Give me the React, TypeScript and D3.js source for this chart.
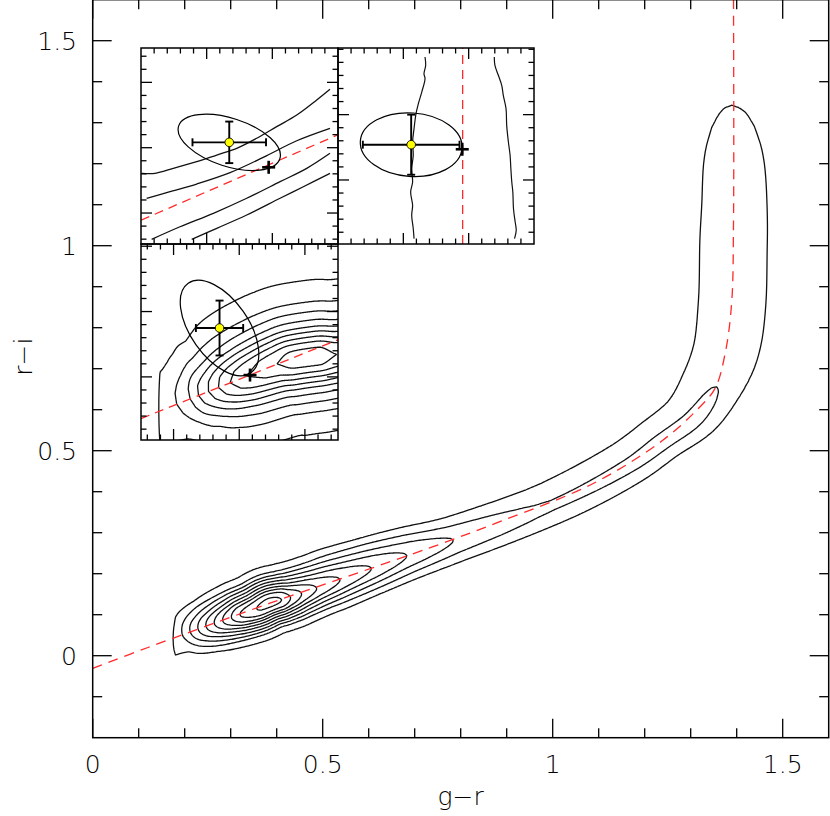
import React from 'react';
import * as d3 from 'd3';

// ---------------- main axes ----------------
const xTickValues = [0, 0.5, 1, 1.5];
const xTickLabels = ['0', '0.5', '1', '1.5'];
const yTickValues = [0, 0.5, 1, 1.5];
const yTickLabels = ['0', '0.5', '1', '1.5'];
const xLabel = 'g\u2212r';
const yLabel = 'r\u2212i';

// ---------------- stellar locus (red dashed) ----------------
const locusGR = [0, 0.12, 0.385, 0.73, 0.885, 1.088, 1.24, 1.313, 1.353, 1.375, 1.389, 1.393, 1.393];
const locusRI = [-0.031, 0.02, 0.128, 0.262, 0.327, 0.42, 0.526, 0.599, 0.652, 0.738, 0.86, 1.05, 1.62];

// ---------------- density ridge of main plot ----------------
const ridgeGR = [0.10, 0.179, 0.196, 0.213, 0.230, 0.247, 0.265, 0.283, 0.302, 0.320, 0.356, 0.385, 0.411, 0.430, 0.454, 0.487, 0.538, 0.606, 0.683, 0.784, 1.001, 1.168, 1.240, 1.313, 1.357, 1.378, 1.390, 1.393, 1.395, 1.394, 1.392, 1.391, 1.390, 1.390, 1.390, 1.390];
const ridgeRI = [0.0094, 0.0413, 0.0482, 0.0551, 0.0619, 0.0688, 0.0761, 0.0833, 0.091, 0.0983, 0.1128, 0.129, 0.137, 0.1427, 0.1524, 0.1657, 0.1864, 0.2138, 0.245, 0.282, 0.366, 0.461, 0.518, 0.579, 0.656, 0.75, 0.86, 1.0, 1.1, 1.2, 1.29, 1.314, 1.331, 1.343, 1.36, 1.40];
const ridgeAmp = [1.6, 1.75, 2, 3, 4, 5, 6, 7, 8, 9, 10, 10.4, 10, 9, 8, 7, 6, 5, 4, 3, 2.08, 2.15, 2.2, 2.18, 2.0, 1.6, 1.37, 1.37, 1.34, 1.284, 1.127, 1.07, 1.029, 1.0, 0.95, 0];
const ridgeWUp = [0.04, 0.04, 0.04, 0.04, 0.04, 0.04, 0.04, 0.04, 0.04, 0.04, 0.04, 0.04, 0.04, 0.041, 0.041, 0.042, 0.044, 0.044, 0.042, 0.039, 0.05, 0.053, 0.054, 0.06, 0.068, 0.075, 0.095, 0.095, 0.095, 0.095, 0.095, 0.095, 0.095, 0.095, 0.095, 0.095];
const ridgeWDn = [0.036, 0.036, 0.036, 0.036, 0.036, 0.036, 0.036, 0.036, 0.036, 0.036, 0.036, 0.036, 0.036, 0.036, 0.036, 0.036, 0.037, 0.037, 0.037, 0.037, 0.037, 0.035, 0.034, 0.038, 0.047, 0.075, 0.095, 0.095, 0.095, 0.095, 0.095, 0.095, 0.095, 0.095, 0.095, 0.095];
const mainProfileR = [0, 0.15, 0.3, 0.45, 0.63, 0.82, 1.0, 1.19, 1.38, 1.56, 1.75, 2.2, 3.2];
const mainProfileF = [1, 0.989, 0.956, 0.905, 0.82, 0.70, 0.6, 0.49, 0.39, 0.29, 0.2, 0.096, 0];
const mainCut = [0.168, 0.18];
const mainLevels = [1, 2, 3, 4, 5, 6, 7, 8, 9, 10];

// ---------------- inset 1 (top-left) ----------------
const in1LineAU = [0.05, 1.07, 2.46, 4.24, 5.77, 7.29, 8.81, 10.33, 11.86, 13.38, 14.39];
const in1LineAV = [5.41, 5.41, 5.79, 6.3, 6.81, 7.32, 8.09, 8.98, 9.87, 11.02, 11.84];
const in1LineBU = [0.43, 2.21, 4.24, 6.78, 9.31, 11.86, 14.39];
const in1LineBV = [3.5, 4.0, 4.59, 5.46, 6.63, 7.9, 8.85];
const in1LineCU = [0.81, 2.97, 5.51, 8.05, 10.59, 12.62, 14.39];
const in1LineCV = [0.36, 1.32, 2.35, 3.5, 4.77, 5.79, 6.94];
const in1LineDU = [3.86, 5.77, 8.05, 10.59, 12.36, 14.39];
const in1LineDV = [0.36, 1.2, 2.22, 3.5, 4.38, 5.41];
const in1DashU = [0, 15];
const in1DashV = [1.82, 8.36];
const in1Point = { u: 6.72, v: 7.78, eu: 2.8, ev: 1.59, a: 4.05, b: 1.83, angle: 18 };
const in1Plus = { u: 9.72, v: 5.87 };

// ---------------- inset 2 (top-right) ----------------
const in2LeftU = [6.66, 6.71, 6.58, 6.66, 6.41, 6.15, 5.97, 5.82, 5.71, 5.76, 5.64, 5.71, 5.56, 5.71, 5.64, 5.76, 5.82];
const in2LeftV = [14.31, 13.67, 13.03, 12.65, 11.63, 10.74, 9.97, 8.83, 7.81, 6.79, 5.76, 4.74, 3.98, 2.96, 2.19, 1.17, 0.41];
const in2RightU = [11.96, 12.01, 12.27, 12.53, 12.65, 12.86, 12.91, 13.04, 13.17, 13.23, 13.3, 13.38, 13.43, 13.56, 13.64, 13.51];
const in2RightV = [14.31, 13.67, 12.91, 12.14, 11.38, 10.36, 9.08, 7.81, 6.79, 5.76, 4.74, 3.98, 2.7, 1.68, 1.05, 0.41];
const in2DashU = [9.54, 9.54];
const in2DashV = [0, 15];
const in2Point = { u: 5.6, v: 7.6, eu: 3.7, ev: 2.3, a: 3.9, b: 2.43, angle: 4 };
const in2Plus = { u: 9.51, v: 7.25 };

// ---------------- inset 3 (bottom-left) ----------------
const in3RidgeU = [0.0, 1.32, 2.72, 3.74, 4.38, 5.14, 5.9, 6.79, 8.07, 10.36, 11.5, 13.5, 14.9, 16.5];
const in3RidgeV = [1.62, 2.17, 2.74, 3.15, 3.41, 3.72, 4.02, 4.38, 4.9, 5.82, 6.12, 6.42, 6.55, 6.8];
const in3RidgeAmp = [1.5, 1.6, 2, 3, 4, 5, 6, 7, 8, 9, 9.55, 9.6, 9.0, 8.6];
const in3RidgeWUp = [1.3, 1.3, 1.2, 1.1, 1.05, 1.0, 1.0, 1.0, 1.0, 1.0, 1.0, 1.0, 1.0, 1.0];
const in3RidgeWDn = [1.3, 1.3, 1.2, 1.1, 1.05, 1.0, 1.0, 1.0, 1.0, 1.0, 1.0, 1.0, 1.0, 1.0];
const in3ProfileR = [0, 0.69, 1.15, 1.53, 1.92, 2.3, 2.81, 3.45, 4.21, 5.87, 9];
const in3ProfileF = [1, 0.9375, 0.833, 0.729, 0.625, 0.521, 0.417, 0.3125, 0.208, 0.104, 0];
const in3Cut = [1.2, 1.45];
const in3Levels = [1, 2, 3, 4, 5, 6, 7, 8, 9];
const in3DashU = [0, 15];
const in3DashV = [1.64, 7.67];
const in3Point = { u: 5.98, v: 8.57, eu: 1.8, ev: 2.1, a: 4.16, b: 2.2, angle: 55 };
const in3Plus = { u: 8.3, v: 4.97 };

// inset tick positions (local units)
const in1XTicks = d3.range(1, 15, 1);
const in1XMajor = [5, 10];
const in1YTicks = d3.range(0.37, 15, 1);
const in1YMajor = [2.37, 7.37, 12.37];
const in2XTicks = d3.range(1, 15, 1);
const in2XMajor = [5, 10];
const in2YTicks = d3.range(0.9, 15, 1);
const in2YMajor = [4.9, 9.9];
const in3XTicks = d3.range(0.48, 15, 1);
const in3XMajor = [2.48, 7.48, 12.48];
const in3YTicks = d3.range(0.83, 15, 1);
const in3YMajor = [4.83, 9.83, 14.83];

// ---------------- layout ----------------
const W = 830;
const H = 816;
const PL = 92.7, PR = 828.7, PT = -0.3, PB = 737.7;
const box1 = { x0: 141, x1: 338, y0: 48, y1: 244 };
const box2 = { x0: 338, x1: 534, y0: 48, y1: 244 };
const box3 = { x0: 141, x1: 338, y0: 244, y1: 440 };
const FONT = '"DejaVu Sans", "Liberation Sans", sans-serif';
const RED = '#ff2a2a';

function interp(xs: number[], ys: number[], x: number) {
  const n = xs.length;
  if (x <= xs[0]) return ys[0];
  if (x >= xs[n - 1]) return ys[n - 1];
  let i = 1;
  while (xs[i] < x) i++;
  const t = (x - xs[i - 1]) / (xs[i] - xs[i - 1]);
  return ys[i - 1] + t * (ys[i] - ys[i - 1]);
}

// monotone cubic tangents (Fritsch-Carlson) over node index
function monoTangents(p: number[]) {
  const n = p.length;
  const d: number[] = [];
  for (let k = 0; k < n - 1; k++) d.push(p[k + 1] - p[k]);
  const m = new Array(n).fill(0);
  m[0] = d[0];
  m[n - 1] = d[n - 2];
  for (let k = 1; k < n - 1; k++) m[k] = d[k - 1] * d[k] <= 0 ? 0 : (d[k - 1] + d[k]) / 2;
  for (let k = 0; k < n - 1; k++) {
    if (d[k] === 0) { m[k] = 0; m[k + 1] = 0; continue; }
    const a = m[k] / d[k], b = m[k + 1] / d[k];
    const s = a * a + b * b;
    if (s > 9) { const tau = 3 / Math.sqrt(s); m[k] = tau * a * d[k]; m[k + 1] = tau * b * d[k]; }
  }
  return m;
}

function hermite(p0: number, p1: number, m0: number, m1: number, t: number) {
  const t2 = t * t, t3 = t2 * t;
  return (2 * t3 - 3 * t2 + 1) * p0 + (t3 - 2 * t2 + t) * m0 + (-2 * t3 + 3 * t2) * p1 + (t3 - t2) * m1;
}

// centripetal Catmull-Rom densification of the ridge, monotone cubic for its parameters
function smoothRidge(xs: number[], ys: number[], params: number[][], sub: number) {
  const n = xs.length;
  const P = xs.map((x, i) => [x, ys[i]]);
  const ext0 = [2 * P[0][0] - P[1][0], 2 * P[0][1] - P[1][1]];
  const extN = [2 * P[n - 1][0] - P[n - 2][0], 2 * P[n - 1][1] - P[n - 2][1]];
  const pts = [ext0, ...P, extN];
  const tangents = params.map(monoTangents);
  const ox: number[] = [], oy: number[] = [];
  const op: number[][] = params.map(() => []);
  const dist = (a: number[], b: number[]) => Math.max(1e-9, Math.sqrt(Math.hypot(b[0] - a[0], b[1] - a[1])));
  for (let k = 0; k < n - 1; k++) {
    const p0 = pts[k], p1 = pts[k + 1], p2 = pts[k + 2], p3 = pts[k + 3];
    const t0 = 0, t1 = t0 + dist(p0, p1), t2 = t1 + dist(p1, p2), t3 = t2 + dist(p2, p3);
    const last = k === n - 2 ? sub : sub - 1;
    for (let s = 0; s <= last; s++) {
      const f = s / sub;
      const t = t1 + f * (t2 - t1);
      const out: number[] = [];
      for (let c = 0; c < 2; c++) {
        const A1 = ((t1 - t) / (t1 - t0)) * p0[c] + ((t - t0) / (t1 - t0)) * p1[c];
        const A2 = ((t2 - t) / (t2 - t1)) * p1[c] + ((t - t1) / (t2 - t1)) * p2[c];
        const A3 = ((t3 - t) / (t3 - t2)) * p2[c] + ((t - t2) / (t3 - t2)) * p3[c];
        const B1 = ((t2 - t) / (t2 - t0)) * A1 + ((t - t0) / (t2 - t0)) * A2;
        const B2 = ((t3 - t) / (t3 - t1)) * A2 + ((t - t1) / (t3 - t1)) * A3;
        out.push(((t2 - t) / (t2 - t1)) * B1 + ((t - t1) / (t2 - t1)) * B2);
      }
      ox.push(out[0]);
      oy.push(out[1]);
      params.forEach((p, pi) => op[pi].push(hermite(p[k], p[k + 1], tangents[pi][k], tangents[pi][k + 1], f)));
    }
  }
  return { x: ox, y: oy, p: op };
}

function densityGrid(rx: number[], ry: number[], ra: number[], wu: number[], wd: number[], pr: number[], pf: number[], cut: number[], x0: number, x1: number, y0: number, y1: number, step: number) {
  const nx = Math.round((x1 - x0) / step) + 1;
  const ny = Math.round((y1 - y0) / step) + 1;
  const values = new Float64Array(nx * ny);
  const nseg = rx.length - 1;
  const maxW = Math.max(...wu, ...wd) * pr[pr.length - 1];
  const minX = Math.min(...rx) - maxW, maxX = Math.max(...rx) + maxW;
  const minY = Math.min(...ry) - maxW, maxY = Math.max(...ry) + maxW;
  for (let j = 0; j < ny; j++) {
    const py = y0 + j * step;
    if (py < minY || py > maxY) continue;
    for (let i = 0; i < nx; i++) {
      const px = x0 + i * step;
      if (px < minX || px > maxX) continue;
      const c = px <= cut[0] ? 0 : px >= cut[1] ? 1 : (px - cut[0]) / (cut[1] - cut[0]);
      if (c === 0) continue;
      let best = Infinity, bi = 0, bt = 0, bside = 1;
      for (let s = 0; s < nseg; s++) {
        const ax = rx[s], ay = ry[s];
        const dx = rx[s + 1] - ax, dy = ry[s + 1] - ay;
        const L2 = dx * dx + dy * dy;
        let t = L2 > 0 ? ((px - ax) * dx + (py - ay) * dy) / L2 : 0;
        if (t < 0) t = 0; else if (t > 1) t = 1;
        const qx = ax + t * dx, qy = ay + t * dy;
        const d2 = (px - qx) * (px - qx) + (py - qy) * (py - qy);
        if (d2 < best) {
          best = d2; bi = s; bt = t;
          bside = dx * (py - ay) - dy * (px - ax) >= 0 ? 1 : -1;
        }
      }
      const A = ra[bi] + bt * (ra[bi + 1] - ra[bi]);
      const w = bside > 0 ? wu[bi] + bt * (wu[bi + 1] - wu[bi]) : wd[bi] + bt * (wd[bi + 1] - wd[bi]);
      const f = interp(pr, pf, Math.sqrt(best) / w);
      values[j * nx + i] = A * f * c;
    }
  }
  return { values, nx, ny };
}

function contourPaths(grid: { values: Float64Array; nx: number; ny: number }, levels: number[], x0: number, y0: number, step: number, sx: (v: number) => number, sy: (v: number) => number) {
  const gen = d3.contours().size([grid.nx, grid.ny]).thresholds(levels);
  const polys = gen(Array.from(grid.values));
  const proj = d3.geoTransform({
    point: function (x: number, y: number) {
      (this as any).stream.point(sx(x0 + (x - 0.5) * step), sy(y0 + (y - 0.5) * step));
    },
  });
  const path = d3.geoPath(proj);
  return polys.map((p) => path(p as any) || '');
}

function buildContours(rx: number[], ry: number[], ra: number[], wu: number[], wd: number[], pr: number[], pf: number[], cut: number[], levels: number[], x0: number, x1: number, y0: number, y1: number, step: number, sx: any, sy: any) {
  const sm = smoothRidge(rx, ry, [ra, wu, wd], 6);
  const g = densityGrid(sm.x, sm.y, sm.p[0], sm.p[1], sm.p[2], pr, pf, cut, x0, x1, y0, y1, step);
  return contourPaths(g, levels, x0, y0, step, sx, sy);
}

function ErrorPoint({ sx, sy, p }: { sx: any; sy: any; p: any }) {
  const cx = sx(p.u), cy = sy(p.v);
  const ex = Math.abs(sx(p.u + p.eu) - cx);
  const ey = Math.abs(sy(p.v + p.ev) - cy);
  const ra = Math.abs(sx(p.a) - sx(0));
  const rb = Math.abs(sx(p.b) - sx(0));
  const cap = 4;
  return (
    <g>
      <ellipse cx={0} cy={0} rx={ra} ry={rb} fill="none" stroke="#000" strokeWidth={1.2}
        transform={`translate(${cx},${cy}) rotate(${p.angle})`} />
      <g stroke="#000" strokeWidth={1.9}>
        <line x1={cx - ex} x2={cx + ex} y1={cy} y2={cy} />
        <line x1={cx - ex} x2={cx - ex} y1={cy - cap} y2={cy + cap} />
        <line x1={cx + ex} x2={cx + ex} y1={cy - cap} y2={cy + cap} />
        <line x1={cx} x2={cx} y1={cy - ey} y2={cy + ey} />
        <line x1={cx - cap} x2={cx + cap} y1={cy - ey} y2={cy - ey} />
        <line x1={cx - cap} x2={cx + cap} y1={cy + ey} y2={cy + ey} />
      </g>
      <circle cx={cx} cy={cy} r={4.3} fill="#ffff00" stroke="#000" strokeWidth={0.9} />
    </g>
  );
}

function Plus({ x, y }: { x: number; y: number }) {
  const h = 6.5;
  return (
    <g stroke="#000" strokeWidth={2.6}>
      <line x1={x - h} x2={x + h} y1={y} y2={y} />
      <line x1={x} x2={x} y1={y - h} y2={y + h} />
    </g>
  );
}

function InsetTicks({ box, sx, sy, xt, xm, yt, ym }: any) {
  const minL = 5.5, majL = 11;
  const isMaj = (arr: number[], v: number) => arr.some((m) => Math.abs(m - v) < 1e-6);
  const out: any[] = [];
  xt.forEach((u: number, i: number) => {
    const x = sx(u);
    const L = isMaj(xm, u) ? majL : minL;
    out.push(<line key={'xb' + i} x1={x} x2={x} y1={box.y1} y2={box.y1 - L} />);
    out.push(<line key={'xt' + i} x1={x} x2={x} y1={box.y0} y2={box.y0 + L} />);
  });
  yt.forEach((v: number, i: number) => {
    const y = sy(v);
    const L = isMaj(ym, v) ? majL : minL;
    out.push(<line key={'yl' + i} x1={box.x0} x2={box.x0 + L} y1={y} y2={y} />);
    out.push(<line key={'yr' + i} x1={box.x1} x2={box.x1 - L} y1={y} y2={y} />);
  });
  return <g stroke="#000" strokeWidth={1.3}>{out}</g>;
}

function insetScales(box: any) {
  const sx = d3.scaleLinear().domain([0, 15]).range([box.x0, box.x1]);
  const sy = d3.scaleLinear().domain([0, 15]).range([box.y1, box.y0]);
  return { sx, sy };
}

export default function App() {
  const sx = d3.scaleLinear().domain([0, 1.6]).range([PL, PR]);
  const sy = d3.scaleLinear().domain([-0.2, 1.6]).range([PB, PT]);
  const s1 = insetScales(box1);
  const s2 = insetScales(box2);
  const s3 = insetScales(box3);

  const mainPaths = React.useMemo(
    () => buildContours(ridgeGR, ridgeRI, ridgeAmp, ridgeWUp, ridgeWDn, mainProfileR, mainProfileF, mainCut, mainLevels, 0, 1.6, -0.2, 1.6, 0.003, sx, sy),
    []
  );
  const in3Paths = React.useMemo(
    () => buildContours(in3RidgeU, in3RidgeV, in3RidgeAmp, in3RidgeWUp, in3RidgeWDn, in3ProfileR, in3ProfileF, in3Cut, in3Levels, -0.6, 15.6, -0.6, 15.6, 0.04, s3.sx, s3.sy),
    []
  );

  const locusLine = d3.line<number>().x((_, i) => sx(locusGR[i])).y((_, i) => sy(locusRI[i])).curve(d3.curveCatmullRom.alpha(0.5));

  const mkLine = (sc: any, us: number[], vs: number[], curve: any = d3.curveCatmullRom.alpha(0.5)) =>
    d3.line<number>().x((_, i) => sc.sx(us[i])).y((_, i) => sc.sy(vs[i])).curve(curve)(us) || '';

  const xMinor = d3.range(1, 16).map((k) => k / 10).filter((v) => Math.abs(v * 2 - Math.round(v * 2)) > 1e-6);
  const yMinor = d3.range(-1, 16).map((k) => k / 10).filter((v) => Math.abs(v * 2 - Math.round(v * 2)) > 1e-6);

  return (
    <div style={{ position: 'absolute', left: 0, top: 0 }}>
      <svg width={W} height={H} viewBox={`0 0 ${W} ${H}`} style={{ display: 'block', background: '#fff' }}>
        <defs>
          <clipPath id="plotClip"><rect x={PL} y={0} width={PR - PL} height={PB} /></clipPath>
          <clipPath id="in1Clip"><rect x={box1.x0} y={box1.y0} width={box1.x1 - box1.x0} height={box1.y1 - box1.y0} /></clipPath>
          <clipPath id="in2Clip"><rect x={box2.x0} y={box2.y0} width={box2.x1 - box2.x0} height={box2.y1 - box2.y0} /></clipPath>
          <clipPath id="in3Clip"><rect x={box3.x0} y={box3.y0} width={box3.x1 - box3.x0} height={box3.y1 - box3.y0} /></clipPath>
        </defs>
        <rect x={0} y={0} width={W} height={H} fill="#fff" />

        {/* main content */}
        <g clipPath="url(#plotClip)">
          {mainPaths.map((d, i) => (
            <path key={i} d={d} fill="none" stroke="#111" strokeWidth={1.3} strokeLinejoin="round" />
          ))}
          <path d={locusLine(locusGR) || ''} fill="none" stroke={RED} strokeWidth={1.3} strokeDasharray="10 7" />
        </g>

        {/* main frame and ticks */}
        <g stroke="#000" strokeWidth={1.3}>
          {xMinor.map((v, i) => (
            <g key={'xm' + i}>
              <line x1={sx(v)} x2={sx(v)} y1={PB} y2={PB - 9.5} />
              <line x1={sx(v)} x2={sx(v)} y1={PT} y2={PT + 9.5} />
            </g>
          ))}
          {xTickValues.map((v, i) => (
            <g key={'xM' + i}>
              <line x1={sx(v)} x2={sx(v)} y1={PB} y2={PB - 19} />
              <line x1={sx(v)} x2={sx(v)} y1={PT} y2={PT + 19} />
            </g>
          ))}
          {yMinor.map((v, i) => (
            <g key={'ym' + i}>
              <line x1={PL} x2={PL + 9.5} y1={sy(v)} y2={sy(v)} />
              <line x1={PR} x2={PR - 9.5} y1={sy(v)} y2={sy(v)} />
            </g>
          ))}
          {yTickValues.map((v, i) => (
            <g key={'yM' + i}>
              <line x1={PL} x2={PL + 19} y1={sy(v)} y2={sy(v)} />
              <line x1={PR} x2={PR - 19} y1={sy(v)} y2={sy(v)} />
            </g>
          ))}
        </g>
        <rect x={PL} y={PT} width={PR - PL} height={PB - PT} fill="none" stroke="#000" strokeWidth={1.5} />

        {/* tick labels */}
        <g fontFamily={FONT} fontSize={25} fontWeight={200} fill="#000">
          {xTickValues.map((v, i) => (
            <text key={'xl' + i} x={sx(v)} y={773} textAnchor="middle">{xTickLabels[i]}</text>
          ))}
          {yTickValues.map((v, i) => (
            <text key={'yl' + i} x={77} y={sy(v) + 9} textAnchor="end">{yTickLabels[i]}</text>
          ))}
          <text x={(PL + PR) / 2} y={805} textAnchor="middle">{xLabel}</text>
          <text transform={`translate(32,${(PT + PB) / 2 - 12}) rotate(-90)`} textAnchor="middle">{yLabel}</text>
        </g>

        {/* inset 1 */}
        <rect x={box1.x0} y={box1.y0} width={box1.x1 - box1.x0} height={box1.y1 - box1.y0} fill="#fff" />
        <g clipPath="url(#in1Clip)">
          {[[in1LineAU, in1LineAV], [in1LineBU, in1LineBV], [in1LineCU, in1LineCV], [in1LineDU, in1LineDV]].map((l, i) => (
            <path key={i} d={mkLine(s1, l[0], l[1])} fill="none" stroke="#111" strokeWidth={1.3} />
          ))}
          <path d={mkLine(s1, in1DashU, in1DashV, d3.curveLinear)} fill="none" stroke={RED} strokeWidth={1.3} strokeDasharray="9 6" />
          <ErrorPoint sx={s1.sx} sy={s1.sy} p={in1Point} />
          <Plus x={s1.sx(in1Plus.u)} y={s1.sy(in1Plus.v)} />
        </g>
        <InsetTicks box={box1} sx={s1.sx} sy={s1.sy} xt={in1XTicks} xm={in1XMajor} yt={in1YTicks} ym={in1YMajor} />

        {/* inset 2 */}
        <rect x={box2.x0} y={box2.y0} width={box2.x1 - box2.x0} height={box2.y1 - box2.y0} fill="#fff" />
        <g clipPath="url(#in2Clip)">
          <path d={mkLine(s2, in2LeftU, in2LeftV)} fill="none" stroke="#111" strokeWidth={1.2} />
          <path d={mkLine(s2, in2RightU, in2RightV)} fill="none" stroke="#111" strokeWidth={1.2} />
          <path d={mkLine(s2, in2DashU, in2DashV, d3.curveLinear)} fill="none" stroke={RED} strokeWidth={1.3} strokeDasharray="9 6" />
          <ErrorPoint sx={s2.sx} sy={s2.sy} p={in2Point} />
          <Plus x={s2.sx(in2Plus.u)} y={s2.sy(in2Plus.v)} />
        </g>
        <InsetTicks box={box2} sx={s2.sx} sy={s2.sy} xt={in2XTicks} xm={in2XMajor} yt={in2YTicks} ym={in2YMajor} />

        {/* inset 3 */}
        <rect x={box3.x0} y={box3.y0} width={box3.x1 - box3.x0} height={box3.y1 - box3.y0} fill="#fff" />
        <g clipPath="url(#in3Clip)">
          {in3Paths.map((d, i) => (
            <path key={i} d={d} fill="none" stroke="#111" strokeWidth={1.3} strokeLinejoin="round" />
          ))}
          <path d={mkLine(s3, in3DashU, in3DashV, d3.curveLinear)} fill="none" stroke={RED} strokeWidth={1.3} strokeDasharray="9 6" />
          <ErrorPoint sx={s3.sx} sy={s3.sy} p={in3Point} />
          <Plus x={s3.sx(in3Plus.u)} y={s3.sy(in3Plus.v)} />
        </g>
        <InsetTicks box={box3} sx={s3.sx} sy={s3.sy} xt={in3XTicks} xm={in3XMajor} yt={in3YTicks} ym={in3YMajor} />

        {/* inset frames */}
        {[box1, box2, box3].map((b, i) => (
          <rect key={i} x={b.x0} y={b.y0} width={b.x1 - b.x0} height={b.y1 - b.y0} fill="none" stroke="#000" strokeWidth={1.5} />
        ))}
      </svg>
    </div>
  );
}
